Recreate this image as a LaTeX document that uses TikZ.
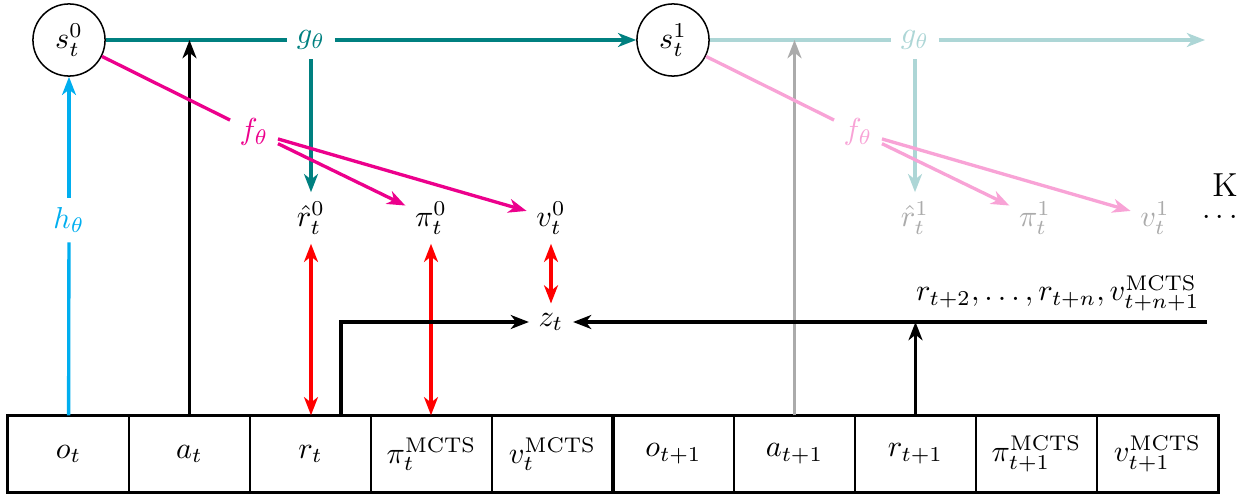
\documentclass[tikz,border=0pt]{standalone}
\usetikzlibrary{arrows.meta,calc}
\definecolor{cy}{HTML}{00AEEF}
\definecolor{mg}{HTML}{EC008C}
\definecolor{tl}{RGB}{0,128,128}
\colorlet{tlf}{tl!32!white}
\colorlet{mgf}{mg!36!white}
\colorlet{grf}{black!33}
\begin{document}
\begin{tikzpicture}[x=0.33pt,y=-0.33pt,
  >={Stealth[length=6pt,width=4.6pt,inset=1.8pt]},
  ln/.style={line width=1.1pt},
  st/.style={circle,draw,line width=0.5pt,minimum size=23.8pt,inner sep=0pt},
  lab/.style={inner sep=3pt},
  cell/.style={draw,line width=0.45pt,minimum width=39.93pt,minimum height=25.1pt,inner sep=0pt}]
\useasboundingbox (0,0) rectangle (1253,495);
% state nodes
\node[st] (s0) at (69,40) {$s_t^0$};
\node[st] (s1) at (673,40) {$s_t^1$};
\node[lab,text=tl] (g0) at (311,40) {$g_\theta$};
\node[lab,text=tlf] (g1) at (915,40) {$g_\theta$};
\node[lab,text=mg] (f0) at (254,132) {$f_\theta$};
\node[lab,text=mgf] (f1) at (858,132) {$f_\theta$};
\node[lab] (r0) at (311,218) {$\hat r_t^0$};
\node[lab] (p0) at (431,218) {$\pi_t^0$};
\node[lab] (v0) at (551,218) {$v_t^0$};
\node[lab,text=grf] (r1) at (915,218) {$\hat r_t^1$};
\node[lab,text=grf] (p1) at (1035,218) {$\pi_t^1$};
\node[lab,text=grf] (v1) at (1155,218) {$v_t^1$};
\node[lab,text=cy] (h) at (69,220) {$h_\theta$};
\node[lab] (z) at (551,322) {$z_t$};
\node (K) at (1225,185) {\fontsize{11}{13}\selectfont K};
\node (dots) at (1220,218) {$\cdots$};
\node[anchor=base east,inner sep=0pt] (lbl) at (1200,301) {$r_{t+2},\ldots,r_{t+n},v_{t+n+1}^{\mathrm{MCTS}}$};
% cells
\node[cell] (ot) at (68.5,454) {$o_t$};
\node[cell] (at) at (189.5,454) {$a_t$};
\node[cell] (rt) at (310.5,454) {$r_t$};
\node[cell] (pit) at (431.5,454) {$\pi_t^{\mathrm{MCTS}}$};
\node[cell] (vt) at (552.5,454) {$v_t^{\mathrm{MCTS}}$};
\node[cell] (ot1) at (673.5,454) {$o_{t+1}$};
\node[cell] (at1) at (794.5,454) {$a_{t+1}$};
\node[cell] (rt1) at (915.5,454) {$r_{t+1}$};
\node[cell] (pit1) at (1036.5,454) {$\pi_{t+1}^{\mathrm{MCTS}}$};
\node[cell] (vt1) at (1157.5,454) {$v_{t+1}^{\mathrm{MCTS}}$};
\draw[line width=1.1pt] (ot.north west) rectangle (vt.south east);
\draw[line width=1.1pt] (ot1.north west) rectangle (vt1.south east);
% faded part
\coordinate (gend) at (1205,40);
\draw[ln,tlf] (s1) -- (g1);
\draw[ln,tlf,->] (g1) -- (gend);
\draw[ln,tlf,->] (g1) -- (r1);
\draw[ln,grf,->] (at1.north) -- (at1.north |- s1.center);
\draw[ln,mgf] (s1) -- (f1);
\draw[ln,mgf,->] (f1) -- (p1);
\draw[ln,mgf,->] (f1) -- (v1);
% main part
\draw[ln,tl] (s0) -- (g0);
\draw[ln,tl,->] (g0) -- (s1);
\draw[ln,tl,->] (g0) -- (r0);
\draw[ln,->] (at.north) -- (at.north |- s0.center);
\draw[ln,mg] (s0) -- (f0);
\draw[ln,mg,->] (f0) -- (p0);
\draw[ln,mg,->] (f0) -- (v0);
\draw[ln,cy] (ot) -- (h);
\draw[ln,cy,->] (h) -- (s0);
\draw[ln,red,<->] (r0) -- (r0 |- rt.north);
\draw[ln,red,<->] (p0) -- (p0 |- pit.north);
\draw[ln,red,<->] (v0) -- (z);
\coordinate (rtc) at ($(rt.north)+(30.5,0)$);
\coordinate (zend) at (1207,322);
\draw[ln,->] (rtc) |- (z);
\draw[ln,->] (zend) -- (z);
\draw[ln,->] (rt1.north) -- (rt1.north |- z);
\end{tikzpicture}
\end{document}
